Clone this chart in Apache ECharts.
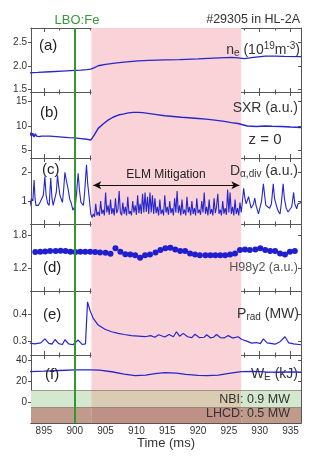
<!DOCTYPE html>
<html><head><meta charset="utf-8">
<script src="https://cdn.jsdelivr.net/npm/echarts@6/dist/echarts.min.js"></script>
<style>html,body{margin:0;padding:0;background:#fff}#c{width:324px;height:465px}</style>
</head><body><div id="c"></div>
<script>
const FONT = "'Liberation Sans', Arial, sans-serif";

// ---------- data ----------
const xMajorTicks = [895, 900, 905, 910, 915, 920, 925, 930, 935];
const xMinorTicks = [897.5, 902.5, 907.5, 912.5, 917.5, 922.5, 927.5, 932.5];
const lboTime = 900;
const mitigationStart = 902.7, mitigationEnd = 927.0;

// (a) line-averaged density
const tNe = [892.6, 894, 896, 898, 900, 901, 902, 902.6, 903.2, 903.8, 905, 906.5, 908, 910.3, 912, 914.6, 917, 920, 922.5, 925.4, 926.5, 927.5, 929, 930.9, 932.5, 934, 936.7];
const ne  = [1.845, 1.855, 1.87, 1.885, 1.90, 1.905, 1.915, 1.925, 1.96, 2.0, 2.03, 2.055, 2.08, 2.105, 2.115, 2.126, 2.135, 2.148, 2.165, 2.18, 2.17, 2.155, 2.18, 2.21, 2.21, 2.205, 2.2];

// (b) SXR
const tSxr = [892.6, 892.8, 893.0, 893.2, 893.4, 893.6, 893.8, 894.0, 894.2, 894.4, 894.6, 894.8, 895.0, 895.2, 896, 897, 898, 899, 900, 901, 902, 902.6, 903.2, 903.8, 904.6, 905.4, 906.2, 907.05, 908, 908.7, 909.5, 910.3, 911, 911.9, 913, 914.6, 916, 917.3, 918.5, 920, 921.3, 922.7, 924, 925.4, 926.5, 928, 929.5, 930.9, 932, 933.5, 935, 936.7];
const sxr  = [7.8, 8.6, 7.9, 8.5, 7.7, 8.4, 7.9, 8.3, 7.8, 8.2, 7.9, 8.1, 7.9, 8.0, 7.9, 7.8, 7.7, 7.6, 7.55, 7.4, 7.25, 7.1, 8.2, 9.5, 10.4, 11.2, 11.8, 12.25, 12.5, 12.7, 12.8, 12.8, 12.75, 12.6, 12.4, 12.1, 11.95, 11.8, 11.7, 11.55, 11.4, 11.2, 11.0, 10.7, 10.5, 10.0, 9.9, 10.0, 9.95, 9.9, 9.8, 9.7];

// (c) D-alpha divertor [time, value]
const dAlpha = [
 [892.6,0.73],[892.97,1.08],[893.2,1.0],[893.4,1.73],[893.55,1.1],[893.7,0.85],[893.9,0.9],[894.1,0.85],[894.35,0.95],[894.6,0.95],[894.9,1.2],[895.15,1.85],[895.35,1.2],[895.6,0.92],[895.85,0.85],[896.1,1.8],[896.3,1.1],[896.5,0.85],[896.8,0.85],[897.0,1.3],[897.2,1.9],[897.4,1.5],[897.6,1.2],[898.0,0.95],[898.2,1.4],[898.4,2.0],[898.65,1.7],[898.9,1.44],[899.2,1.05],[899.4,0.95],[899.7,0.68],[900.1,0.85],[900.3,1.3],[900.55,1.97],[900.75,1.4],[901.0,0.95],[901.2,0.9],[901.4,0.85],[901.6,1.3],[901.9,2.26],[902.1,1.6],[902.3,1.2],[902.6,0.55],
 [902.8,0.42],[903.0,0.55],[903.2,0.45],[903.4,0.9],[903.6,0.5],[903.8,0.62],[904.0,0.48],[904.2,1.0],[904.4,0.55],[904.6,0.7],[904.8,0.5],[905.0,1.3],[905.2,0.6],[905.4,0.85],[905.6,0.52],[905.8,1.05],[906.0,0.55],[906.2,0.75],[906.4,0.5],[906.6,1.1],[906.8,0.58],[907.0,0.7],[907.2,1.35],[907.4,0.6],[907.6,0.5],[907.8,0.95],[908.0,0.55],[908.2,0.8],[908.4,0.5],[908.6,1.15],[908.8,0.55],[909.0,0.65],[909.2,0.5],[909.4,1.0],[909.6,0.6],[909.8,0.85],[910.0,0.52],[910.2,1.2],[910.4,0.58],[910.6,0.9],[910.8,0.55],[911.0,1.25],[911.2,0.6],[911.4,1.3],[911.6,0.62],[911.8,1.15],[912.0,0.55],[912.2,1.3],[912.4,0.6],[912.6,1.2],[912.8,0.55],[913.0,1.1],[913.2,0.58],[913.4,0.8],[913.6,0.5],[913.8,1.05],[914.0,0.55],[914.2,0.7],[914.4,0.5],[914.6,1.2],[914.8,0.6],[915.0,0.8],[915.2,0.52],[915.4,1.0],[915.6,0.58],[915.8,0.75],[916.0,0.5],[916.2,1.1],[916.4,0.6],[916.6,1.35],[916.8,0.58],[917.0,0.85],[917.2,0.5],[917.4,1.05],[917.6,0.55],[917.8,0.7],[918.0,0.5],[918.2,1.15],[918.4,0.6],[918.6,0.8],[918.8,0.5],[919.0,1.0],[919.2,0.55],[919.4,0.75],[919.6,0.5],[919.8,1.1],[920.0,0.58],[920.2,0.7],[920.4,0.52],[920.6,1.0],[920.8,0.6],[921.0,1.3],[921.2,0.55],[921.4,0.8],[921.6,0.5],[921.8,1.05],[922.0,0.55],[922.2,0.72],[922.4,0.5],[922.6,1.1],[922.8,0.58],[923.0,0.8],[923.2,1.25],[923.4,0.55],[923.6,0.7],[923.8,0.5],[924.0,1.0],[924.2,0.56],[924.4,0.75],[924.6,0.52],[924.8,1.4],[925.0,0.6],[925.2,1.3],[925.4,0.55],[925.6,0.8],[925.8,0.5],[926.0,1.05],[926.2,0.55],[926.4,0.75],[926.6,0.5],[926.8,0.95],[927.0,0.6],
 [927.2,1.0],[927.4,1.44],[927.6,1.1],[927.8,0.9],[928.0,0.85],[928.2,1.15],[928.4,0.95],[928.6,0.75],[928.8,0.72],[929.0,0.9],[929.2,1.1],[929.4,0.85],[929.6,0.7],[929.8,0.55],[930.0,0.6],[930.3,1.0],[930.6,1.6],[930.8,1.2],[931.0,0.85],[931.3,0.85],[931.6,0.75],[931.9,0.9],[932.2,1.6],[932.4,1.1],[932.7,0.85],[933.0,0.65],[933.3,0.55],[933.5,0.9],[933.8,1.6],[934.0,1.1],[934.3,0.75],[934.6,0.62],[934.9,0.6],[935.2,0.8],[935.5,1.3],[935.7,0.9],[936.0,0.73],[936.2,0.9],[936.7,0.95]
];

// (d) H98y2
const tH98 = [892.8, 893.6, 894.4, 895.2, 896.0, 896.9, 897.7, 898.5, 899.3, 900.1, 900.9, 901.7, 902.5, 903.3, 904.1, 905.0, 905.8, 906.6, 907.4, 908.2, 909.0, 909.8, 910.6, 911.4, 912.2, 913.1, 913.9, 914.7, 915.5, 916.3, 917.1, 917.9, 918.7, 919.5, 920.3, 921.2, 922.0, 922.8, 923.6, 924.4, 925.2, 926.0, 926.8, 927.6, 928.4, 929.3, 930.1, 930.9, 931.7, 932.5, 933.3, 934.1, 934.9, 935.7];
const h98  = [1.485, 1.497, 1.503, 1.509, 1.515, 1.515, 1.521, 1.515, 1.503, 1.497, 1.503, 1.503, 1.503, 1.497, 1.491, 1.485, 1.467, 1.564, 1.503, 1.46, 1.455, 1.442, 1.394, 1.442, 1.455, 1.491, 1.533, 1.564, 1.576, 1.545, 1.515, 1.515, 1.473, 1.455, 1.442, 1.442, 1.442, 1.442, 1.442, 1.442, 1.455, 1.473, 1.533, 1.545, 1.533, 1.545, 1.564, 1.533, 1.515, 1.515, 1.473, 1.455, 1.503, 1.515];

// (e) radiated power
const tPrad = [892.6, 893.5, 894.5, 895.15, 895.8, 896.3, 896.8, 897.4, 898, 898.4, 899, 899.7, 900.55, 901.2, 901.74, 902.07, 902.45, 903.0, 903.8, 904.9, 905.96, 907.05, 908, 909.2, 910.3, 911.4, 912.3, 913.0, 913.6, 914.6, 915.3, 916.0, 916.5, 917.0, 917.6, 918.3, 919.0, 919.5, 920.2, 921.0, 921.4, 922.0, 922.5, 923.0, 923.6, 924.3, 924.9, 925.6, 926.5, 927.1, 927.8, 928.7, 929.5, 930.1, 930.6, 931.2, 932.0, 932.5, 933.3, 934.1, 934.7, 935.5, 936.7];
const prad  = [0.295, 0.292, 0.296, 0.31, 0.294, 0.291, 0.308, 0.293, 0.29, 0.307, 0.292, 0.289, 0.306, 0.29, 0.292, 0.444, 0.414, 0.384, 0.36, 0.345, 0.336, 0.33, 0.326, 0.322, 0.32, 0.318, 0.322, 0.316, 0.325, 0.317, 0.326, 0.318, 0.336, 0.32, 0.33, 0.318, 0.315, 0.327, 0.315, 0.316, 0.325, 0.314, 0.316, 0.326, 0.315, 0.314, 0.322, 0.313, 0.318, 0.308, 0.303, 0.295, 0.297, 0.293, 0.31, 0.296, 0.293, 0.291, 0.3, 0.318, 0.296, 0.292, 0.289];

// (f) stored energy
const tWe = [892.6, 895, 897.5, 900, 902.6, 904, 906, 908, 909.8, 911.5, 913, 914.6, 916.5, 918, 920, 921.5, 923.3, 925, 927, 929, 930.9, 933, 935, 936.7];
const we  = [29, 29.5, 30.2, 30.7, 30.7, 30.5, 29, 26.8, 25.2, 25.8, 27.2, 28.2, 27.6, 26.5, 25.5, 25.3, 25.8, 27.5, 29.2, 29.4, 28.8, 28.5, 28.8, 28.5];

// heating bands in panel (f) (y-axis units of panel f)
const nbiBand = [-5, 11];
const lhcdBand = [-20, -5];

// y-axis tick labels per panel
const yTicks = [[1.5, 2.0, 2.5], [5, 10, 15], [1, 2], [1.2, 1.8], [0.3, 0.4], [0, 20, 40]];
const yDecimals = [1, 0, 0, 1, 1, 0];
const yRanges = [[1.43, 2.82], [3.4, 17], [0.2, 2.5], [0.8, 2.0], [0.252, 0.483], [-20, 45]];

// ---------- layout ----------
const X_MIN = 892.9, X_MAX = 936.7;
const panelTops = [28, 92, 158, 224, 291, 355];
const panelHeights = [64, 66, 66, 67, 64, 68];
const AXIS = '#555';
const BLUE = '#2626cc';

const zip = (a, b) => a.map((v, i) => [v, b[i]]);

const grid = panelTops.map((t, i) => ({ left: 31, right: 23, top: t, height: panelHeights[i] }));
const xAxis = [], yAxis = [];
for (let i = 0; i < 6; i++) {
  const last = i === 5;
  const mk = (pos, ticks, len, label) => ({
    type: 'value', gridIndex: i, position: pos, min: X_MIN, max: X_MAX,
    axisLine: { show: true, onZero: false, lineStyle: { color: AXIS, width: 1 } },
    axisTick: { show: true, inside: true, length: len, customValues: ticks, lineStyle: { color: AXIS } },
    axisLabel: { show: label, customValues: xMajorTicks, fontSize: 10, color: '#333', fontFamily: FONT, margin: 3 },
    splitLine: { show: false }
  });
  xAxis.push(mk('bottom', xMajorTicks, 4, last));
  xAxis.push(mk('bottom', xMinorTicks, 2.5, false));
  xAxis.push(mk('top', xMajorTicks, 4, false));
  xAxis.push(mk('top', xMinorTicks, 2.5, false));
  const my = (pos, label) => ({
    type: 'value', gridIndex: i, position: pos, min: yRanges[i][0], max: yRanges[i][1],
    axisLine: { show: true, lineStyle: { color: AXIS, width: 1 } },
    axisTick: { show: true, inside: pos === 'right', length: 3, customValues: yTicks[i], lineStyle: { color: AXIS } },
    axisLabel: { show: label, customValues: yTicks[i], formatter: v => Number(v).toFixed(yDecimals[i]),
      fontSize: 10, color: '#333', fontFamily: FONT, margin: 4 },
    splitLine: { show: false }
  });
  yAxis.push(my('left', true));
  yAxis.push(my('right', false));
}

const series = [];
for (let i = 0; i < 6; i++) {
  series.push({ type: 'line', xAxisIndex: 4 * i, yAxisIndex: 2 * i, data: [], z: 1, silent: true,
    markArea: { silent: true, itemStyle: { color: '#f9d3d8' }, data: [[{ xAxis: mitigationStart }, { xAxis: mitigationEnd }]] } });
}
// heating bands
series.push({ type: 'line', xAxisIndex: 20, yAxisIndex: 10, data: [], z: 2, silent: true,
  markArea: { silent: true, data: [
    [{ xAxis: X_MIN, yAxis: nbiBand[1], itemStyle: { color: '#d3e8cf' } }, { xAxis: mitigationStart, yAxis: nbiBand[0] }],
    [{ xAxis: mitigationStart, yAxis: nbiBand[1], itemStyle: { color: '#d9ccb2' } }, { xAxis: mitigationEnd, yAxis: nbiBand[0] }],
    [{ xAxis: mitigationEnd, yAxis: nbiBand[1], itemStyle: { color: '#d3e8cf' } }, { xAxis: X_MAX, yAxis: nbiBand[0] }],
    [{ xAxis: X_MIN, yAxis: lhcdBand[1], itemStyle: { color: '#c09a8b' } }, { xAxis: mitigationStart, yAxis: lhcdBand[0] }],
    [{ xAxis: mitigationStart, yAxis: lhcdBand[1], itemStyle: { color: '#bf9086' } }, { xAxis: mitigationEnd, yAxis: lhcdBand[0] }],
    [{ xAxis: mitigationEnd, yAxis: lhcdBand[1], itemStyle: { color: '#c09a8b' } }, { xAxis: X_MAX, yAxis: lhcdBand[0] }]
  ] },
  markLine: { silent: true, symbol: ['none', 'none'], label: { show: false },
    lineStyle: { color: '#8a8070', width: 0.8, type: 'solid' },
    data: [{ yAxis: nbiBand[1] }, { yAxis: nbiBand[0] }] } });
// LBO green line
for (let i = 0; i < 6; i++) {
  series.push({ type: 'line', xAxisIndex: 4 * i, yAxisIndex: 2 * i, data: [], z: 2.5, silent: true,
    markLine: { silent: true, symbol: ['none', 'none'], label: { show: false },
      lineStyle: { color: '#2f9a2f', width: 2, type: 'solid' }, data: [{ xAxis: lboTime }] } });
}
const lineS = (i, data, w) => ({ type: 'line', xAxisIndex: 4 * i, yAxisIndex: 2 * i, data, z: 3,
  showSymbol: false, symbol: 'none', lineStyle: { color: BLUE, width: w }, animation: false });
series.push(lineS(0, zip(tNe, ne), 1.3));
series.push(lineS(1, zip(tSxr, sxr), 1.4));
series.push(lineS(2, dAlpha, 1.1));
series.push({ type: 'scatter', xAxisIndex: 12, yAxisIndex: 6, data: zip(tH98, h98), z: 3,
  symbolSize: 6, itemStyle: { color: '#1f1fcf', opacity: 1 } });
series.push(lineS(4, zip(tPrad, prad), 1.2));
series.push(lineS(5, zip(tWe, we), 1.3));
// ELM mitigation arrow
series.push({ type: 'line', xAxisIndex: 8, yAxisIndex: 4, data: [], z: 4, silent: true,
  markLine: { silent: true, symbol: ['arrow', 'arrow'], symbolSize: [6, 8], label: { show: false },
    lineStyle: { color: '#111', width: 1, type: 'solid' },
    data: [[{ coord: [903.0, 1.55] }, { coord: [926.7, 1.55] }]] } });

const T = (text, x, y, opt = {}) => ({ type: 'text', z: opt.z || 100, silent: true,
  style: { text, x, y, fill: opt.color || '#222', font: (opt.size || 14) + 'px ' + FONT,
    align: opt.align || 'left', verticalAlign: 'middle', rich: opt.rich } });
const sub = (size) => ({ fontSize: size, fontFamily: FONT, padding: [7, 0, 0, 0] });
const sup = (size) => ({ fontSize: size, fontFamily: FONT, padding: [0, 0, 7, 0] });
const main = (size) => ({ fontSize: size, fontFamily: FONT });

const graphic = [
  T('LBO:Fe', 77, 20, { color: '#3a9a3a', size: 13, align: 'center' }),
  T('#29305 in HL-2A', 300, 20, { color: '#333', size: 12.5, align: 'right' }),
  T('(a)', 39, 46, { size: 15 }),
  T('(b)', 40, 113, { size: 15 }),
  T('(c)', 42, 170, { size: 15 }),
  T('(d)', 43, 268, { size: 15 }),
  T('(e)', 43, 315, { size: 15 }),
  T('(f)', 45, 375, { size: 15 }),
  T('{m|n}{s|e}{m| (10}{p|19}{m|m}{p|-3}{m|)}', 300, 50, { align: 'right', color: '#333',
    rich: { m: main(14), s: sub(10), p: sup(10) } }),
  T('SXR (a.u.)', 298, 108, { align: 'right', color: '#333' }),
  T('z = 0', 265, 140, { align: 'center', color: '#333', size: 15 }),
  T('{m|D}{s|α,div}{m| (a.u.)}', 298, 171, { align: 'right', color: '#333',
    rich: { m: main(14), s: sub(10) } }),
  T('ELM Mitigation', 166, 175, { align: 'center', color: '#222', size: 12 }),
  T('H98y2 (a.u.)', 298, 268, { align: 'right', color: '#555', size: 12.5 }),
  T('{m|P}{s|rad}{m| (MW)}', 299, 314, { align: 'right', color: '#333',
    rich: { m: main(14), s: sub(10) } }),
  T('{m|W}{s|E}{m| (kJ)}', 298, 374, { align: 'right', color: '#333', z: 2.8,
    rich: { m: main(14), s: sub(10) } }),
  T('NBI: 0.9 MW', 290, 400, { align: 'right', color: '#333', size: 12.5 }),
  T('LHCD: 0.5 MW', 290, 414, { align: 'right', color: '#333', size: 12.5 }),
  T('Time (ms)', 166, 443, { align: 'center', color: '#333', size: 13 })
];

const chart = echarts.init(document.getElementById('c'), null, { renderer: 'canvas' });
chart.setOption({ animation: false, backgroundColor: '#fff', grid, xAxis, yAxis, series, graphic });
</script>
</body></html>
